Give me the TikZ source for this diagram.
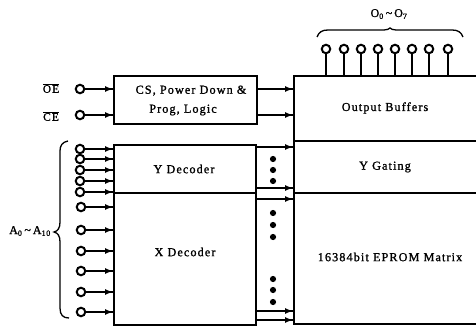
\documentclass[tikz,border=0pt]{standalone}
\usepackage{fontspec}
\setmainfont[LetterSpace=9,FakeBold=1.2]{Liberation Serif}
\usetikzlibrary{arrows.meta,decorations.markings}
\tikzset{
  x=1pt,y=-1pt,
  box/.style={draw,line width=1.8pt,inner sep=0pt,outer sep=0pt,anchor=north west},
  pinnode/.style={draw,circle,line width=2pt,minimum size=8.5pt,inner sep=0pt,fill=white},
  txt/.style={font=\fontsize{12.2}{19}\selectfont,inner sep=0pt,align=center},
  wire/.style={line width=1.4pt},
  feed/.style={wire,postaction={decorate},decoration={markings,mark=at position -1pt with {\arrow{Latex[length=8pt,width=6pt]}}}},
  dotnode/.style={circle,fill=black,minimum size=6.2pt,inner sep=0pt},
  bracket/.style={line width=1.3pt}
}
\begin{document}
\begin{tikzpicture}
\useasboundingbox (0,0) rectangle (476,326);
\clip (0,0) rectangle (476,326);
% boxes
\node[box,minimum width=143pt,minimum height=48pt] (cs) at (114,76) {};
\node[box,minimum width=142pt,minimum height=48pt] (yd) at (114,145) {};
\node[box,minimum width=142pt,minimum height=132pt] (xd) at (114,193) {};
\node[box,minimum width=190pt,minimum height=65pt] (ob) at (294,76) {};
\node[box,minimum width=190pt,minimum height=52pt] (yg) at (294,141) {};
\node[box,minimum width=190pt,minimum height=131pt] (mx) at (294,193) {};
% box texts
\node[txt] (tcs) at (191,100.5) {CS, Power Down \&\\Prog, Logic\hspace*{16pt}};
\node[txt] (tyd) at (184,169) {Y Decoder};
\node[txt] (txd) at (185,252) {X Decoder};
\node[txt] (tob) at (385,108) {Output Buffers};
\node[txt] (tyg) at (385,167) {Y Gating};
\node[txt] (tmx) at (390,257) {16384bit EPROM Matrix};
% control pins
\node[pinnode] (oe) at (80,89) {};
\node[pinnode] (ce) at (80,115) {};
\node[txt,font=\fontsize{11.5}{12}\selectfont] (loe) at (51,88) {$\overline{\mbox{OE}}$};
\node[txt,font=\fontsize{11.5}{12}\selectfont] (lce) at (51,116) {$\overline{\mbox{CE}}$};
\draw[feed] (oe) -- (oe -| cs.west);
\draw[feed] (ce) -- (ce -| cs.west);
% address pins
\foreach \i/\py in {1/149,2/159,3/170,4/181,5/192}{
  \node[pinnode] (ya\i) at (80,\py) {};
  \draw[feed] (ya\i) -- (ya\i -| yd.west);
}
\foreach \i/\py in {1/207,2/230,3/251,4/271,5/292,6/312}{
  \node[pinnode] (xa\i) at (81,\py) {};
  \draw[feed] (xa\i) -- (xa\i -| xd.west);
}
\draw[bracket] (68,141) .. controls (62,142) and (60,146) .. (60,151) -- (60,222)
  .. controls (60,228) and (58,231) .. (54,232) .. controls (58,233) and (60,236) .. (60,242)
  -- (60,308) .. controls (60,315) and (63,318) .. (69,318);
\node[txt,font=\fontsize{12}{13}\selectfont] (la) at (30,231) {A\textsubscript{0}\,\textasciitilde\,A\textsubscript{10}};
% output pins
\foreach \i/\px in {1/326,2/344,3/361,4/378,5/395,6/412,7/429,8/448}{
  \node[pinnode] (o\i) at (\px,49) {};
  \draw[wire] (o\i) -- (o\i |- ob.north);
}
\draw[bracket] (317,37) .. controls (319,32) and (322,30) .. (328,30) -- (384,30)
  .. controls (387,30) and (389,29) .. (390,28) .. controls (391,29) and (393,30) .. (396,30)
  -- (452,30) .. controls (458,30) and (461,32) .. (463,37);
\node[txt,font=\fontsize{12}{13}\selectfont] (lo) at (389,14) {O\textsubscript{0}\,\textasciitilde\,O\textsubscript{7}};
% internal buses
\draw[feed] (cs.east |- 0,89) -- (ob.west |- 0,89);
\draw[feed] (cs.east |- 0,115) -- (ob.west |- 0,115);
\draw[feed] (yd.east |- 0,147) -- (yg.west |- 0,147);
\draw[feed] (yd.east |- 0,188) -- (yg.west |- 0,188);
\draw[feed] (xd.east |- 0,199) -- (mx.west |- 0,199);
\draw[feed] (xd.east |- 0,311) -- (mx.west |- 0,311);
\draw[feed] (xd.east |- 0,320) -- (mx.west |- 0,320);
% dots
\foreach \i/\py in {1/159,2/170,3/181,4/213,5/225,6/237,7/279,8/290,9/302}{
  \node[dotnode] (d\i) at (273,\py) {};
}
\end{tikzpicture}
\end{document}
